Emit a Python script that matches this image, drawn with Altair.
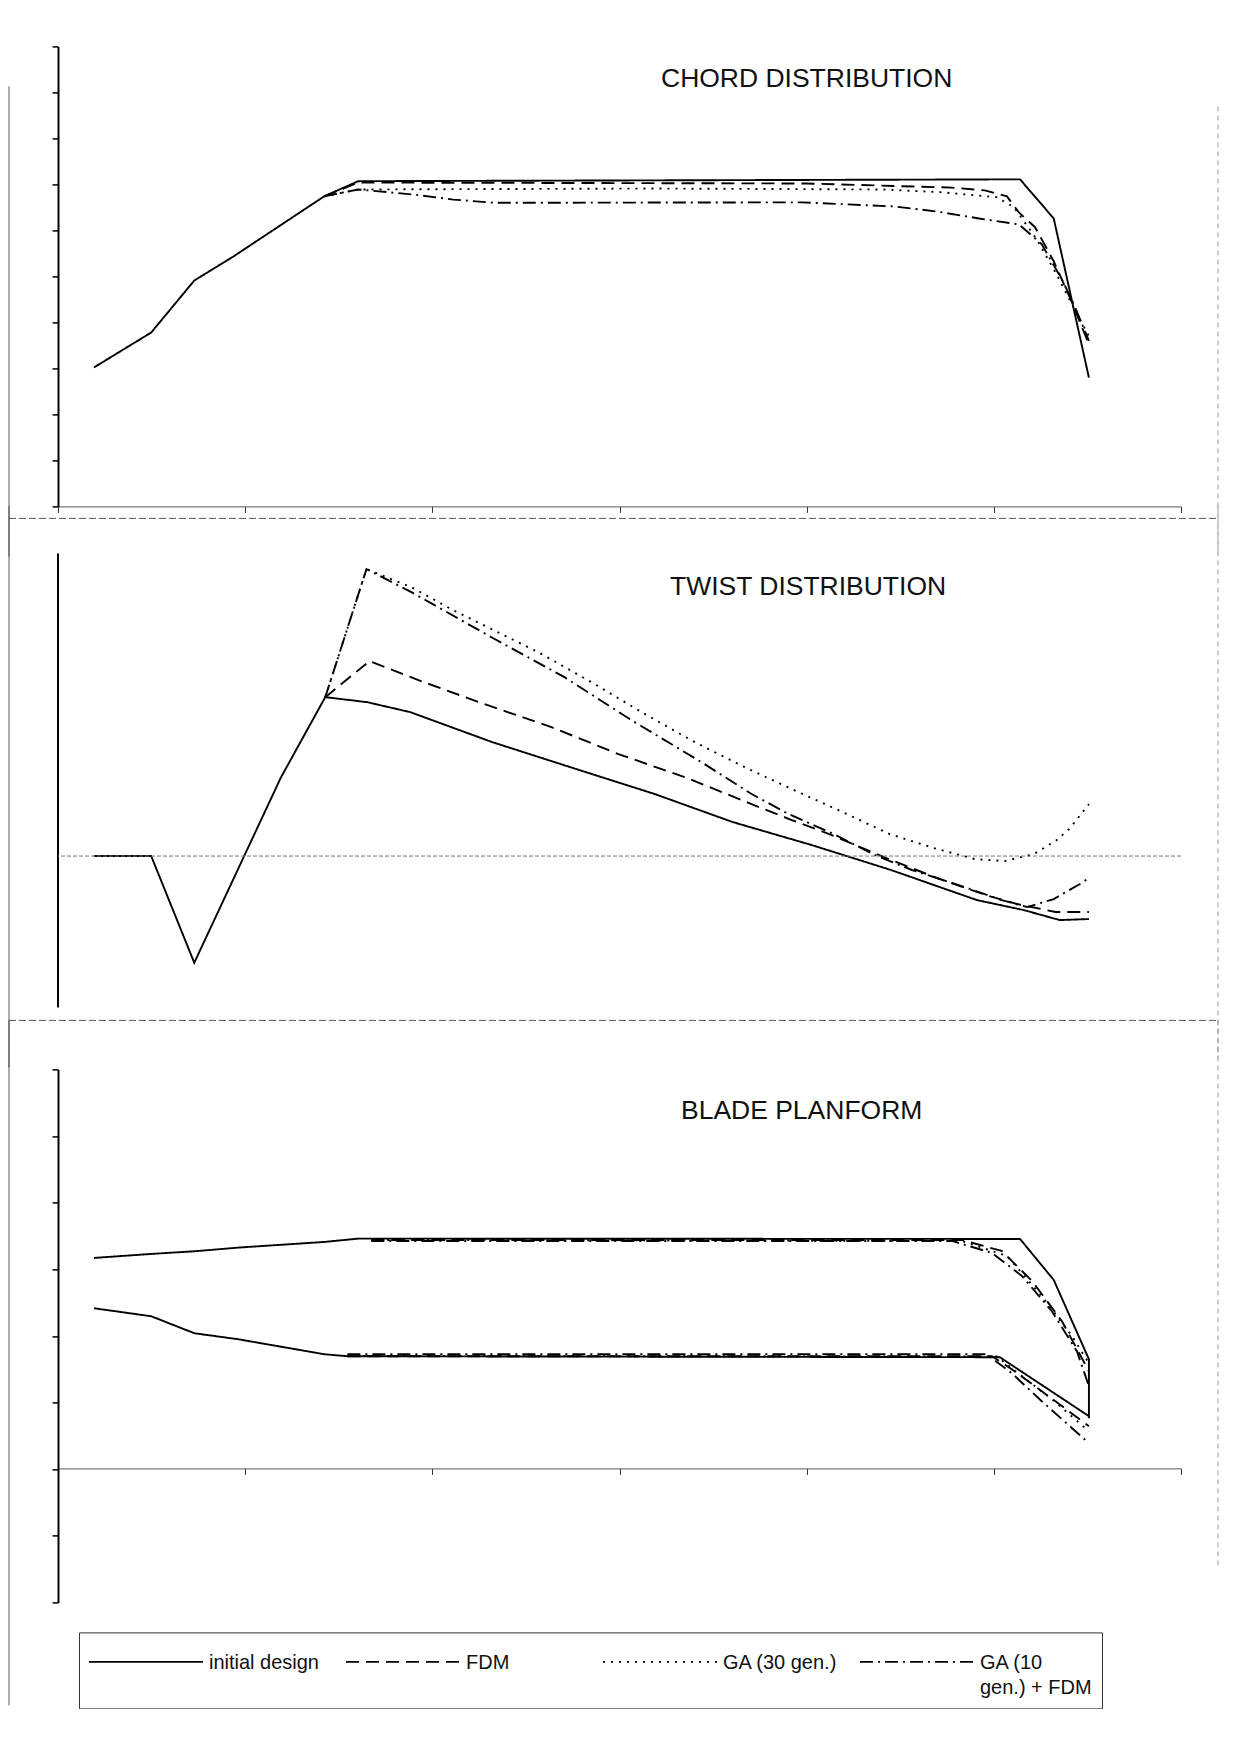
import altair as alt
import pandas as pd

SERIES = ["initial design", "FDM", "GA (30 gen.)", "GA (10 gen.) + FDM"]
DASHES = [[1, 0], [13, 7], [2, 6], [13, 5, 2, 5]]
X_TICKS = [0, 5, 10, 15, 20, 25, 30]

# ---------------- CHORD DISTRIBUTION ----------------
CH_INIT_X = [0.96, 2.49, 3.64, 4.68, 7.11, 8.02, 25.70, 26.60, 27.54]
CH_INIT_Y = [0.302, 0.378, 0.491, 0.543, 0.674, 0.707, 0.711, 0.626, 0.280]
CH_FDM_X = [7.11, 8.02, 20.0, 23.88, 24.76, 25.35, 25.67, 26.10, 26.60, 27.09, 27.54]
CH_FDM_Y = [0.674, 0.704, 0.702, 0.693, 0.687, 0.674, 0.639, 0.607, 0.533, 0.443, 0.352]
CH_GA30_X = [7.11, 8.02, 16.0, 22.0, 23.6, 25.08, 25.54, 26.15, 26.68, 27.09, 27.54]
CH_GA30_Y = [0.674, 0.689, 0.691, 0.689, 0.683, 0.672, 0.650, 0.580, 0.504, 0.439, 0.370]
CH_GA10_X = [7.11, 8.02, 9.49, 10.56, 11.66, 19.87, 22.35, 23.48, 24.60, 25.67, 26.28, 26.82, 27.14, 27.54]
CH_GA10_Y = [0.674, 0.689, 0.678, 0.667, 0.660, 0.661, 0.652, 0.641, 0.626, 0.613, 0.570, 0.493, 0.439, 0.360]
CH_TICKS = [0, 0.1, 0.2, 0.3, 0.4, 0.5, 0.6, 0.7, 0.8, 0.9, 1.0]

# ---------------- TWIST DISTRIBUTION ----------------
TW_INIT_X = [0.96, 2.49, 3.64, 5.96, 7.14, 8.26, 9.41, 11.60, 13.93, 15.94, 18.02, 20.13, 22.25, 24.55, 25.80, 26.76, 27.54]
TW_INIT_Y = [0.0, 0.0, -7.05, 5.22, 10.50, 10.17, 9.51, 7.53, 5.68, 4.10, 2.25, 0.73, -0.92, -2.91, -3.57, -4.23, -4.16]
TW_FDM_X = [7.14, 8.32, 9.63, 11.39, 13.18, 14.97, 16.74, 18.53, 19.60, 20.67, 22.19, 23.48, 24.87, 25.62, 26.65, 27.54]
TW_FDM_Y = [10.50, 12.88, 11.62, 10.04, 8.52, 6.74, 5.22, 3.43, 2.38, 1.39, -0.20, -1.45, -2.64, -3.17, -3.70, -3.70]
TW_GA30_X = [7.14, 8.24, 9.44, 10.51, 12.83, 14.25, 15.59, 17.01, 18.34, 19.60, 20.67, 22.22, 23.40, 24.49, 25.29, 26.07, 26.68, 27.01, 27.54]
TW_GA30_Y = [10.50, 18.96, 17.77, 16.31, 13.47, 11.49, 9.51, 7.53, 5.88, 4.43, 3.24, 1.45, 0.53, -0.20, -0.33, 0.13, 1.06, 1.78, 3.43]
TW_GA10_X = [7.14, 8.24, 9.44, 11.58, 13.53, 15.32, 17.27, 18.53, 19.52, 20.67, 21.82, 22.81, 24.22, 25.21, 25.90, 26.60, 27.30, 27.54]
TW_GA10_Y = [10.50, 18.96, 17.44, 14.46, 11.82, 8.98, 6.08, 4.10, 2.77, 1.52, 0.07, -0.92, -2.05, -2.91, -3.37, -2.84, -1.85, -1.45]
TW_TICKS = [-10, -5, 0, 5, 10, 15, 20]

# ---------------- BLADE PLANFORM ----------------
PL_INIT_UP_X = [0.96, 2.49, 3.64, 4.81, 7.11, 8.02, 25.70, 26.60, 27.54, 27.54]
PL_INIT_UP_Y = [0.634, 0.646, 0.654, 0.665, 0.682, 0.692, 0.691, 0.568, 0.330, 0.153]
PL_INIT_LO_X = [0.96, 2.49, 3.64, 4.81, 7.11, 7.73, 25.16, 27.54]
PL_INIT_LO_Y = [0.483, 0.459, 0.408, 0.390, 0.345, 0.339, 0.336, 0.159]
PL_FDM_UP_X = [8.37, 24.14, 25.21, 26.02, 26.82, 27.54]
PL_FDM_UP_Y = [0.688, 0.688, 0.655, 0.565, 0.444, 0.294]
PL_GA30_UP_X = [8.37, 24.14, 25.35, 26.28, 27.09, 27.54]
PL_GA30_UP_Y = [0.688, 0.685, 0.640, 0.520, 0.399, 0.318]
PL_GA10_UP_X = [8.37, 23.88, 24.95, 25.75, 26.55, 27.22, 27.54]
PL_GA10_UP_Y = [0.685, 0.685, 0.649, 0.580, 0.474, 0.354, 0.249]
PL_FDM_LO_X = [7.73, 24.95, 25.48, 26.28, 27.54]
PL_FDM_LO_Y = [0.339, 0.339, 0.300, 0.234, 0.129]
PL_GA30_LO_X = [7.73, 25.08, 25.75, 26.55, 27.54]
PL_GA30_LO_Y = [0.340, 0.338, 0.279, 0.210, 0.114]
PL_GA10_LO_X = [7.73, 24.81, 25.48, 26.28, 27.09, 27.54]
PL_GA10_LO_Y = [0.345, 0.345, 0.288, 0.204, 0.123, 0.078]
PL_TICKS = [-0.4, -0.2, 0, 0.2, 0.4, 0.6, 0.8, 1.0, 1.2]

TITLES = ["CHORD DISTRIBUTION", "TWIST DISTRIBUTION", "BLADE PLANFORM"]

FONT = "Liberation Sans"
W = 1123


def frame(parts):
    rows = []
    for series, edge, xs, ys in parts:
        for i, (x, y) in enumerate(zip(xs, ys)):
            rows.append({"series": series, "edge": edge, "x": x, "y": y, "i": i})
    return pd.DataFrame(rows)


chord_df = frame([
    (SERIES[0], "a", CH_INIT_X, CH_INIT_Y),
    (SERIES[1], "a", CH_FDM_X, CH_FDM_Y),
    (SERIES[2], "a", CH_GA30_X, CH_GA30_Y),
    (SERIES[3], "a", CH_GA10_X, CH_GA10_Y),
])
twist_df = frame([
    (SERIES[0], "a", TW_INIT_X, TW_INIT_Y),
    (SERIES[1], "a", TW_FDM_X, TW_FDM_Y),
    (SERIES[2], "a", TW_GA30_X, TW_GA30_Y),
    (SERIES[3], "a", TW_GA10_X, TW_GA10_Y),
])
plan_df = frame([
    (SERIES[0], "up", PL_INIT_UP_X, PL_INIT_UP_Y),
    (SERIES[0], "lo", PL_INIT_LO_X, PL_INIT_LO_Y),
    (SERIES[1], "up", PL_FDM_UP_X, PL_FDM_UP_Y),
    (SERIES[1], "lo", PL_FDM_LO_X, PL_FDM_LO_Y),
    (SERIES[2], "up", PL_GA30_UP_X, PL_GA30_UP_Y),
    (SERIES[2], "lo", PL_GA30_LO_X, PL_GA30_LO_Y),
    (SERIES[3], "up", PL_GA10_UP_X, PL_GA10_UP_Y),
    (SERIES[3], "lo", PL_GA10_LO_X, PL_GA10_LO_Y),
])

x_scale = alt.Scale(domain=[0, 30], nice=False, zero=False)
dash_scale = alt.Scale(domain=SERIES, range=DASHES)
one = pd.DataFrame({"k": [0]})


def y_axis(values, domain=True):
    return alt.Axis(values=values, labels=False, title=None, grid=False, domain=domain,
                    domainColor="black", domainWidth=2, tickColor="black",
                    tickSize=6, tickWidth=1.5)


def x_axis(offset=0):
    return alt.Axis(values=X_TICKS, labels=False, title=None, grid=False,
                    domainColor="#555", domainWidth=1, tickColor="#333",
                    tickSize=6, tickWidth=1, offset=offset)


def lines(df, yscale, yaxis, xaxis, legend):
    return alt.Chart(df).mark_line(color="black", strokeWidth=1.9, strokeCap="butt").encode(
        x=alt.X("x:Q", scale=x_scale, axis=xaxis),
        y=alt.Y("y:Q", scale=yscale, axis=yaxis),
        strokeDash=alt.StrokeDash("series:N", scale=dash_scale, legend=legend),
        detail="edge:N",
        order="i:Q",
    )


def title_mark(text, px, py):
    return alt.Chart(pd.DataFrame({"t": [text]})).mark_text(
        align="left", baseline="middle", font=FONT, fontSize=26.5, color="#111"
    ).encode(text="t:N", x=alt.value(px), y=alt.value(py))


def hrule(py, x0, x1, dash, color="#555"):
    return alt.Chart(one).mark_rule(strokeDash=dash, color=color, strokeWidth=1).encode(
        x=alt.value(x0), x2=alt.value(x1), y=alt.value(py))


def vrule(px, y0, y1, dash, color="#444", width=1):
    return alt.Chart(one).mark_rule(strokeDash=dash, color=color, strokeWidth=width).encode(
        x=alt.value(px), y=alt.value(y0), y2=alt.value(y1))


RIGHT = 1160

# --- chord panel ---
chord_y = alt.Scale(domain=[0, 1], nice=False, zero=False)
chord = alt.layer(
    lines(chord_df, chord_y, y_axis(CH_TICKS), x_axis(), None),
    title_mark(TITLES[0], 603, 33),
    hrule(472, -49, RIGHT, [7, 3]),
    vrule(-49, 40, 510, [1, 0]),
    vrule(RIGHT, 60, 505, [5, 4], "#999"),
).properties(width=W, height=460)

# --- twist panel ---
TW_H = 468.4
twist_y = alt.Scale(domain=[20 - TW_H / (454 / 30), 20], nice=False, zero=False)
twist = alt.layer(
    lines(twist_df, twist_y, y_axis(TW_TICKS, domain=False), None, None),
    alt.Chart(one).mark_rule(color="black", strokeWidth=2).encode(
        x=alt.value(0), y=alt.YDatum(-10, axis=None), y2=alt.Y2Datum(20)),
    alt.Chart(one).mark_rule(color="#777", strokeWidth=1, strokeDash=[4, 2]).encode(
        y=alt.YDatum(0, axis=None)),
    title_mark(TITLES[1], 612, 34),
    hrule(467, -49, RIGHT, [7, 3]),
    vrule(-49, -47, 514, [1, 0]),
    vrule(RIGHT, -47, 505, [5, 4], "#999"),
).properties(width=W, height=TW_H)

# --- planform panel ---
plan_y = alt.Scale(domain=[-0.4, 1.2], nice=False, zero=False)
legend = alt.Legend(
    title=None, orient="none", legendX=21, legendY=563, direction="horizontal",
    columns=4, gridAlign="all", symbolType="M-5.7,0.85H5.7", symbolSize=400,
    symbolStrokeWidth=1.8, symbolStrokeColor="black", symbolOffset=46,
    labelFont=FONT, labelFontSize=20, labelColor="#111", labelOffset=52,
    labelBaseline="top", labelLimit=400,
    columnPadding=18, padding=10, strokeColor="#333",
    labelExpr="datum.label == 'GA (10 gen.) + FDM' ? ['GA (10', 'gen.) + FDM'] : [datum.label, '']",
)
plan = alt.layer(
    lines(plan_df, plan_y, y_axis(PL_TICKS), x_axis(offset=-134), legend),
    title_mark(TITLES[2], 623, 42),
    vrule(-49, -49, 636, [1, 0]),
    vrule(RIGHT, -49, 500, [5, 4], "#999"),
).properties(width=W, height=533)

chart = alt.vconcat(chord, twist, plan, spacing=47, bounds="flush").resolve_scale(
    strokeDash="independent"
).resolve_legend(strokeDash="independent").properties(
    padding={"left": 0, "top": 37.4, "right": 0, "bottom": 0}
).configure(
    background="white", style={"guide-label": {"lineHeight": 25}}
).configure_view(stroke=None)

chart.save("out.html", embed_options={"renderer": "svg", "actions": False})
